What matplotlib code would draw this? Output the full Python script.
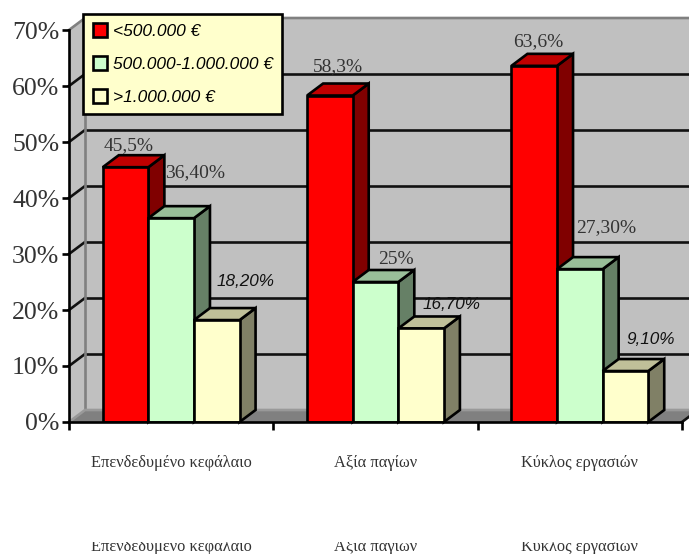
import matplotlib
matplotlib.use('Agg')
import matplotlib.pyplot as plt
import numpy as np
from matplotlib.patches import Polygon, Patch
from matplotlib.transforms import Bbox

categories = ['Επενδεδυμένο κεφάλαιο', 'Αξία παγίων', 'Κύκλος εργασιών']
series_names = ['<500.000 €', '500.000-1.000.000 €', '>1.000.000 €']
low = [45.5, 58.3, 63.6]
mid = [36.4, 25, 27.3]
high = [18.2, 16.7, 9.1]
low_labels = ['45,5%', '58,3%', '63,6%']
mid_labels = ['36,40%', '25%', '27,30%']
high_labels = ['18,20%', '16,70%', '9,10%']
y_ticks = [0, 10, 20, 30, 40, 50, 60, 70]

front = ['#ff0000', '#ccffcc', '#ffffcc']
top = ['#c00000', '#99bf99', '#c0c099']
side = ['#800000', '#668066', '#808066']
serif = 'Liberation Serif'
sans = 'Liberation Sans'
txt = '#333333'
lw = 1.9

fig = plt.figure(figsize=(6.89, 5.54), dpi=100)
ax = fig.add_axes([69 / 689, 132 / 554, 613 / 689, 392 / 554])
ax.set_xlim(0, 3)
ax.set_ylim(0, 70)

# size of the fake 3d depth, in data units
dx = 16 / (613 / 3)
dy = 12 / 5.6
bar_w = 45.6 / (613 / 3)


def poly(pts, fc, ec='none', lw=0, z=1):
    ax.add_patch(Polygon(pts, closed=True, facecolor=fc, edgecolor=ec, linewidth=lw,
                         zorder=z, clip_on=False, joinstyle='miter'))


# walls and floor
poly([(0, 0), (dx, dy), (3.1, dy), (3.1, 70 + dy), (dx, 70 + dy), (0, 70)], '#c0c0c0', z=0.5)
poly([(0, 0), (dx, dy), (3 + dx, dy), (3, 0)], '#808080', z=0.6)

# grid on the back wall + the diagonals on the side wall
for v in y_ticks[1:-1]:
    ax.plot([dx, 3.1], [v + dy, v + dy], color='#111111', lw=lw, zorder=0.8, clip_on=False)
    ax.plot([0, dx], [v, v + dy], color='#111111', lw=lw, zorder=0.8, clip_on=False)
ax.plot([0, dx, 3.1], [70, 70 + dy, 70 + dy], color='#808080', lw=lw, zorder=0.8, clip_on=False)
ax.plot([dx, dx], [dy, 70 + dy], color='#808080', lw=lw, zorder=0.8, clip_on=False)
ax.plot([0, dx, 3 + dx], [0, dy, dy], color='#999999', lw=lw, zorder=0.8, clip_on=False)
ax.plot([3, 3 + dx], [0, dy], color='#111111', lw=lw, zorder=0.8, clip_on=False)

# bars
z = 3
for i in range(len(categories)):
    for j, vals in enumerate([low, mid, high]):
        left = i + 0.5 + (j - 1.5) * bar_w
        right = left + bar_w
        v = vals[i]
        poly([(right, 0), (right + dx, dy), (right + dx, v + dy), (right, v)], side[j], 'black', lw, z)
        poly([(left, v), (left + dx, v + dy), (right + dx, v + dy), (right, v)], top[j], 'black', lw, z)
        ax.bar(left, v, bar_w, align='edge', color=front[j], edgecolor='black', linewidth=lw, zorder=z)
        z += 1

for s in ['top', 'right']:
    ax.spines[s].set_visible(False)
for s in ['left', 'bottom']:
    ax.spines[s].set_linewidth(lw)
    ax.spines[s].set_zorder(20)
ax.patch.set_visible(False)

ax.set_yticks(y_ticks)
ax.set_yticklabels(['%d%%' % v for v in y_ticks], fontfamily=serif, fontsize=18.5, color=txt)
ax.tick_params(axis='y', length=5, width=lw, pad=2)
ax.set_xticks([0, 1, 2, 3])
ax.set_xticklabels([])
ax.tick_params(axis='x', which='major', length=6, width=lw)
ax.set_xticks([0.5, 1.5, 2.5], minor=True)
ax.set_xticklabels(categories, minor=True, fontfamily=serif, fontsize=11.8, color=txt)
ax.tick_params(axis='x', which='minor', length=0, pad=24)

# the same labels again lower down, cut off at the top
for i, c in enumerate(categories):
    t = ax.annotate(c, xy=(i + 0.5, 0), xytext=(0, -90), textcoords='offset points',
                    ha='center', va='center', fontfamily=serif, fontsize=11.8, color=txt,
                    annotation_clip=False)
    t.set_clip_box(Bbox([[0, 0], [689, 12]]))
    t.set_clip_on(True)

# data labels, offsets in points from the top of the front face
low_off = [(2, 9.5), (6, 14.5), (3, 11.5)]
mid_off = [(17, 26.5), (15, 10), (19, 23.5)]
high_off = [(20.5, 22.5), (22, 12), (18, 17)]
for i in range(len(categories)):
    for j, (vals, labs, off) in enumerate([(low, low_labels, low_off), (mid, mid_labels, mid_off), (high, high_labels, high_off)]):
        left = i + 0.5 + (j - 1.5) * bar_w
        if j == 2:
            kw = dict(fontfamily=sans, fontstyle='italic', fontsize=12.3, color='#111111')
        else:
            kw = dict(fontfamily=serif, fontsize=14, color=txt)
        ax.annotate(labs[i], xy=(left + bar_w / 2, vals[i]), xytext=off[i], textcoords='offset points',
                    ha='center', va='bottom', zorder=30, annotation_clip=False, **kw)

handles = [Patch(facecolor=front[k], edgecolor='black', linewidth=lw) for k in range(3)]
leg = ax.legend(handles, series_names, loc='upper left', bbox_to_anchor=(83 / 689, 1 - 13.5 / 554),
                bbox_transform=fig.transFigure, prop=dict(family=sans, style='italic', size=12.5),
                fancybox=False, framealpha=1, facecolor='#ffffcc', edgecolor='black',
                borderaxespad=0, borderpad=0.55, labelspacing=0.98, handlelength=0.85,
                handleheight=0.85, handletextpad=0.3)
leg.get_frame().set_linewidth(lw)
leg.set_zorder(40)

fig.savefig('out.png', dpi=100)
